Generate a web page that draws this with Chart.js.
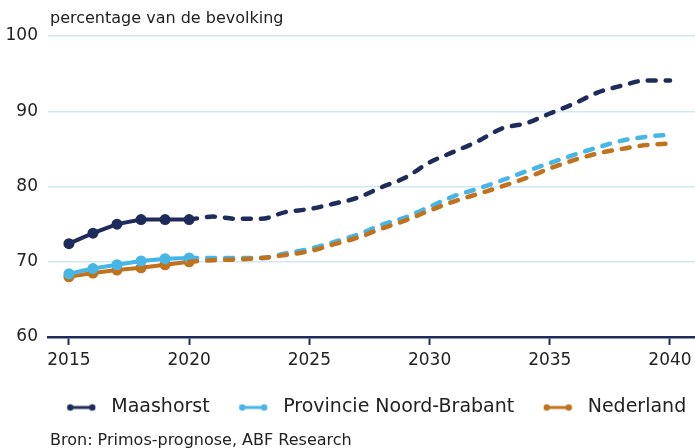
<!DOCTYPE html>
<html>
<head>
<meta charset="utf-8">
<script src="https://cdn.jsdelivr.net/npm/chart.js@4.4.1/dist/chart.umd.min.js"></script>
<style>
  html, body { margin: 0; padding: 0; background: #fff; }
  #wrap { position: relative; width: 695px; height: 448px; overflow: hidden; }
  canvas { position: absolute; left: 0; top: 0; }
  .txt { position: absolute; font-family: "DejaVu Sans", sans-serif; color: #222; white-space: nowrap; }
  #ytitle { left: 50px; top: 8px; font-size: 16px; }
  #source { left: 50px; top: 430px; font-size: 16px; }
</style>
</head>
<body>
<div id="wrap">
  <canvas id="c" width="695" height="448"></canvas>
  <div class="txt" id="ytitle">percentage van de bevolking</div>
  <div class="txt" id="source">Bron: Primos-prognose, ABF Research</div>
</div>
<script>
// ---- data ----
const seriesNames = ["Maashorst", "Provincie Noord-Brabant", "Nederland"];
const histYears = [2015, 2016, 2017, 2018, 2019, 2020];
const forecastYears = [2020, 2021, 2022, 2023, 2024, 2025, 2026, 2027, 2028, 2029, 2030,
  2031, 2032, 2033, 2034, 2035, 2036, 2037, 2038, 2039, 2040];
const maashorstHist = [72.4, 73.8, 75.0, 75.6, 75.6, 75.6];
const brabantHist = [68.4, 69.1, 69.6, 70.1, 70.4, 70.5];
const nederlandHist = [68.0, 68.5, 68.9, 69.2, 69.6, 70.0];
const maashorstForecast = [75.6, 76.0, 75.7, 75.7, 76.6, 77.0, 77.7, 78.5, 79.9, 81.2, 83.2,
  84.6, 86.0, 87.7, 88.4, 89.7, 91.0, 92.5, 93.4, 94.1, 94.1];
const brabantForecast = [70.5, 70.5, 70.5, 70.5, 71.1, 71.7, 72.6, 73.6, 74.9, 75.9, 77.3,
  78.7, 79.7, 80.8, 82.0, 83.1, 84.2, 85.2, 86.1, 86.6, 86.9];
const nederlandForecast = [70.0, 70.2, 70.3, 70.5, 70.9, 71.4, 72.3, 73.2, 74.4, 75.5, 76.8,
  78.0, 79.0, 80.0, 81.1, 82.4, 83.5, 84.4, 85.0, 85.5, 85.7];
const xTicks = [2015, 2020, 2025, 2030, 2035, 2040];
const yTicks = [60, 70, 80, 90, 100];

const colors = ["#1f2c5b", "#46b6e6", "#c1721c"];
const FONT = "'DejaVu Sans', sans-serif";

function pts(xs, ys) { return xs.map((x, i) => ({ x: x, y: ys[i] })); }

function legendIcon(color) {
  const cv = document.createElement('canvas');
  cv.width = 30; cv.height = 10;
  const g = cv.getContext('2d');
  g.strokeStyle = color; g.fillStyle = color; g.lineWidth = 3;
  g.beginPath(); g.moveTo(4, 5); g.lineTo(26, 5); g.stroke();
  g.beginPath(); g.arc(4, 5, 3.2, 0, Math.PI * 2); g.fill();
  g.beginPath(); g.arc(26, 5, 3.2, 0, Math.PI * 2); g.fill();
  return cv;
}

const hist = [maashorstHist, brabantHist, nederlandHist];
const fc = [maashorstForecast, brabantForecast, nederlandForecast];
const datasets = [];
for (let i = 2; i >= 0; i--) {
  datasets.push({
    label: seriesNames[i] + " prognose",
    data: pts(forecastYears, fc[i]),
    borderColor: colors[i],
    backgroundColor: colors[i],
    borderWidth: 4.5,
    borderDash: [8, 10],
    borderCapStyle: 'round',
    pointRadius: 0,
    tension: 0.4,
    cubicInterpolationMode: 'monotone',
    isLegend: false
  });
}
for (let i = 0; i < 3; i++) {
  datasets.push({
    label: seriesNames[i],
    data: pts(histYears, hist[i]),
    borderColor: colors[i],
    backgroundColor: colors[i],
    borderWidth: 4,
    pointRadius: 5.5,
    pointBorderWidth: 0,
    pointBackgroundColor: colors[i],
    tension: 0,
    isLegend: true
  });
}

const shiftLegend = {
  id: 'shiftLegend',
  afterLayout(chart) {
    if (chart.legend) { chart.legend.left += 26; chart.legend.right += 26; }
  }
};

new Chart(document.getElementById('c'), {
  type: 'line',
  data: { datasets: datasets },
  plugins: [shiftLegend],
  options: {
    responsive: false,
    animation: false,
    devicePixelRatio: 1,
    layout: { autoPadding: false, padding: { top: 36, right: 0, left: 0, bottom: 21 } },
    plugins: {
      tooltip: { enabled: false },
      legend: {
        position: 'bottom',
        labels: {
          font: { family: FONT, size: 19 },
          color: '#222',
          usePointStyle: true,
          pointStyleWidth: 41,
          padding: 23,
          generateLabels: (chart) => {
            const items = [];
            chart.data.datasets.forEach((ds, idx) => {
              if (!ds.isLegend) return;
              items.push({
                text: ds.label,
                datasetIndex: idx,
                fillStyle: ds.borderColor,
                strokeStyle: ds.borderColor,
                fontColor: '#222',
                lineWidth: 0,
                pointStyle: legendIcon(ds.borderColor),
                hidden: false
              });
            });
            return items;
          }
        }
      }
    },
    scales: {
      x: {
        type: 'linear',
        min: 2014.13,
        max: 2041.04,
        afterBuildTicks: (scale) => { scale.ticks = xTicks.map(v => ({ value: v })); },
        grid: {
          display: true,
          drawOnChartArea: false,
          drawTicks: true,
          tickLength: 8,
          tickWidth: 2,
          tickColor: '#1f2c5b'
        },
        border: { display: true, color: '#1f2c5b', width: 2.5 },
        ticks: {
          font: { family: FONT, size: 17 },
          color: '#222',
          padding: 5,
          autoSkip: false,
          maxRotation: 0,
          callback: (v) => String(v)
        },
        afterFit: (scale) => { scale.height = 38; scale.paddingLeft = 0; scale.paddingRight = 0; }
      },
      y: {
        min: 60,
        max: 100,
        afterBuildTicks: (scale) => { scale.ticks = yTicks.map(v => ({ value: v })); },
        grid: {
          color: '#cfe8f5',
          lineWidth: 1.5,
          drawTicks: false
        },
        border: { display: false },
        ticks: {
          font: { family: FONT, size: 17 },
          color: '#222',
          padding: 10
        },
        afterFit: (scale) => { scale.width = 48; scale.paddingTop = 0; scale.paddingBottom = 0; }
      }
    }
  }
});
</script>
</body>
</html>
